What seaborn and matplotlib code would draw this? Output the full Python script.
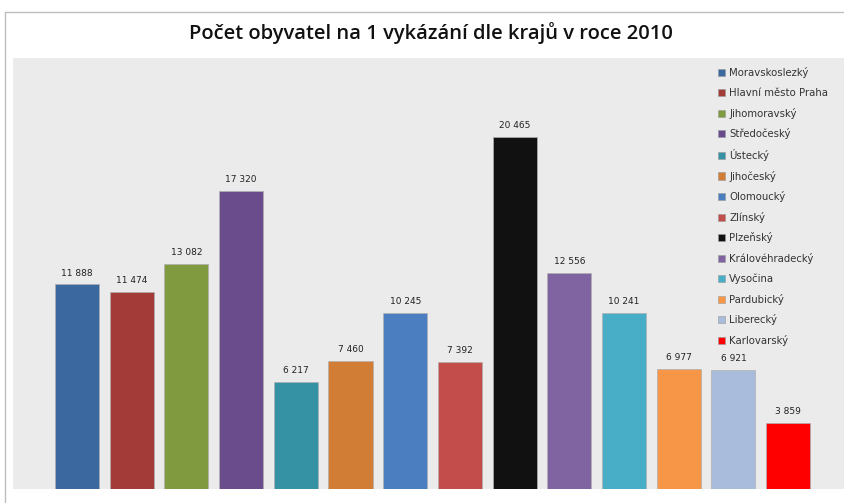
import matplotlib
matplotlib.use("Agg")
import matplotlib.pyplot as plt
import matplotlib.patches as mpatches
import seaborn as sns

# -------- DATA --------
regions = ["Moravskoslezký", "Hlavní město Praha", "Jihomoravský", "Středočeský",
           "Ústecký", "Jihočeský", "Olomoucký", "Zlínský", "Plzeňský",
           "Královéhradecký", "Vysočina", "Pardubický", "Liberecký", "Karlovarský"]
values = [11888, 11474, 13082, 17320, 6217, 7460, 10245, 7392, 20465,
          12556, 10241, 6977, 6921, 3859]
colors = ["#3c68a0", "#a33b39", "#809b3f", "#6a4c8d", "#3591a4", "#d27d35",
          "#4a7ec0", "#c24d4b", "#111111", "#8064a2", "#48adc6", "#f79646",
          "#a9bcdc", "#ff0000"]
title = "Počet obyvatel na 1 vykázání dle krajů v roce 2010"

# -------- PLOT --------
sns.set_style("white")
plt.rcParams["font.family"] = ["DejaVu Sans"]

fig = plt.figure(figsize=(8.45, 5.03), dpi=100)
ax = fig.add_axes([13 / 845, 14 / 503, 1 - 13 / 845, (489 - 58) / 503])

palette = dict(zip(regions, colors))
sns.barplot(x=regions, y=values, hue=regions, palette=palette, width=0.805,
            dodge=False, legend=False, saturation=1, edgecolor="#b0b0b0",
            linewidth=0.5, ax=ax)

ax.set_facecolor("#ebebeb")
ax.set_xlim(-1.17, 14.04)
ax.set_ylim(0, 25050)
ax.set_xticks([])
ax.set_yticks([])
ax.set_xlabel("")
ax.set_ylabel("")
for s in ax.spines.values():
    s.set_visible(False)

# value labels
for i, v in enumerate(values):
    ax.annotate(f"{v:,}".replace(",", " "), (i, v), xytext=(0, 5),
                textcoords="offset points", ha="center", va="bottom",
                fontsize=6.5, color="#222222")

# legend
handles = [mpatches.Patch(facecolor=c, edgecolor="#999999", linewidth=0.4, label=r)
           for r, c in zip(regions, colors)]
ax.legend(handles=handles, loc="upper left", bbox_to_anchor=(700 / 832, 0.99),
          frameon=False, fontsize=7.3, labelcolor="#333333", handlelength=0.7,
          handleheight=0.7, handletextpad=0.4, labelspacing=0.95, borderpad=0)

fig.text(0.51, 1 - 33 / 503, title, ha="center", va="center",
         fontsize=14.5, fontweight="semibold", color="#111111",
         family=["Open Sans", "DejaVu Sans"])

# outer chart frame
fig.add_artist(plt.Line2D([5 / 845, 5 / 845], [0, 1 - 12 / 503], color="#bdbdbd", lw=1))
fig.add_artist(plt.Line2D([5 / 845, 1], [1 - 12 / 503, 1 - 12 / 503], color="#bdbdbd", lw=1))

fig.savefig("out.png", dpi=100)
